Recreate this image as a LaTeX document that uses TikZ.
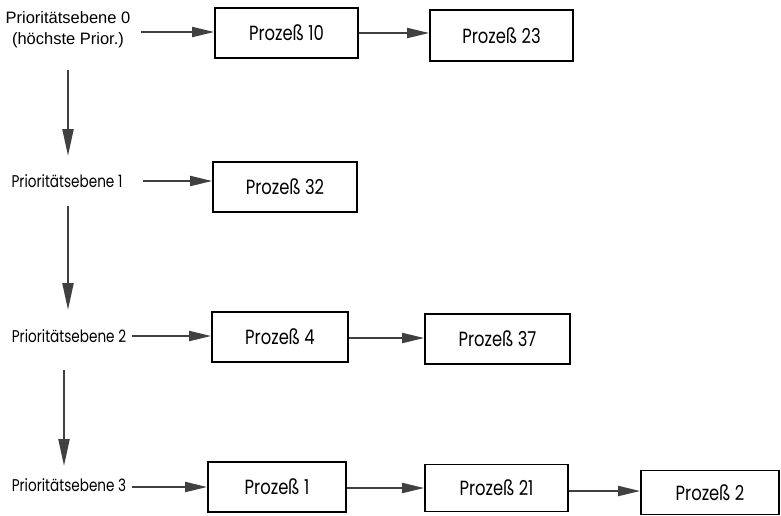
\documentclass[tikz,border=0pt]{standalone}
\usepackage{fontspec}
\setmainfont{Liberation Sans}
\newfontfamily\narrowfont[FakeStretch=0.8]{Poppins}
\newfontfamily\boxfont[FakeStretch=0.8]{Poppins}
\usetikzlibrary{arrows.meta,calc}
\definecolor{arr}{HTML}{404040}
\tikzset{
  proc/.style={draw=black, line width=1.7pt, inner sep=0pt, font=\boxfont\fontsize{20.5}{24}\selectfont},
  lev/.style={inner sep=0pt, align=center},
  levb/.style={inner sep=0pt, font=\narrowfont\fontsize{17}{20}\selectfont},
  harrow/.style={draw=arr, line width=2pt, -{Triangle[length=22pt,width=10pt]}},
  varrow/.style={draw=arr, line width=2.2pt, -{Triangle[length=27pt,width=11pt]}},
}
\begin{document}
\begin{tikzpicture}[x=1pt,y=-1pt]
\useasboundingbox (0,0) rectangle (781,515);
% level labels
\node[lev, font=\fontsize{16.5}{21}\selectfont] (L0) at (68,30) {Prioritätsebene 0\\(höchste Prior.)};
\node[levb] (L1) at (67,181) {Prioritätsebene 1};
\node[levb] (L2) at (69,336) {Prioritätsebene 2};
\node[levb] (L3) at (69,485) {Prioritätsebene 3};
% process boxes
\node[proc, minimum width=143pt, minimum height=50pt] (P10) at (286.5,33) {Prozeß 10};
\node[proc, minimum width=143pt, minimum height=51pt] (P23) at (501.5,35.5) {Prozeß 23};
\node[proc, minimum width=144pt, minimum height=50pt] (P32) at (285,187) {Prozeß 32};
\node[proc, minimum width=136pt, minimum height=50pt] (P4) at (280,337) {Prozeß 4};
\node[proc, minimum width=145pt, minimum height=50pt] (P37) at (497.5,339) {Prozeß 37};
\node[proc, minimum width=138pt, minimum height=50pt] (P1) at (277,487) {Prozeß 1};
\node[proc, minimum width=143pt, minimum height=47pt] (P21) at (496.5,488) {Prozeß 21};
\node[proc, minimum width=138pt, minimum height=44pt] (P2) at (710,492.5) {Prozeß 2};
% vertical connector ends
\coordinate (v1s) at (68,70);  \coordinate (v1e) at (68,156);
\coordinate (v2s) at (68,206); \coordinate (v2e) at (68,310);
\coordinate (v3s) at (64,370); \coordinate (v3e) at (64,466);
\draw[varrow] (v1s) -- (v1e);
\draw[varrow] (v2s) -- (v2e);
\draw[varrow] (v3s) -- (v3e);
% horizontal connectors
\draw[harrow] ([xshift=10pt]L0.east |- 0,32) -- (P10.west |- 0,32);
\draw[harrow] (P10.east |- 0,33) -- (P23.west |- 0,33);
\draw[harrow] ([xshift=20pt]L1.east) -- (P32.west |- L1.east);
\draw[harrow] ([xshift=6pt]L2.east) -- (P4.west |- L2.east);
\draw[harrow] (P4.east |- 0,338) -- (P37.west |- 0,338);
\draw[harrow] ([xshift=6pt]L3.east |- 0,487) -- (P1.west |- 0,487);
\draw[harrow] (P1.east |- 0,488) -- (P21.west |- 0,488);
\draw[harrow] (P21.east |- 0,491) -- (P2.west |- 0,491);
\end{tikzpicture}
\end{document}
